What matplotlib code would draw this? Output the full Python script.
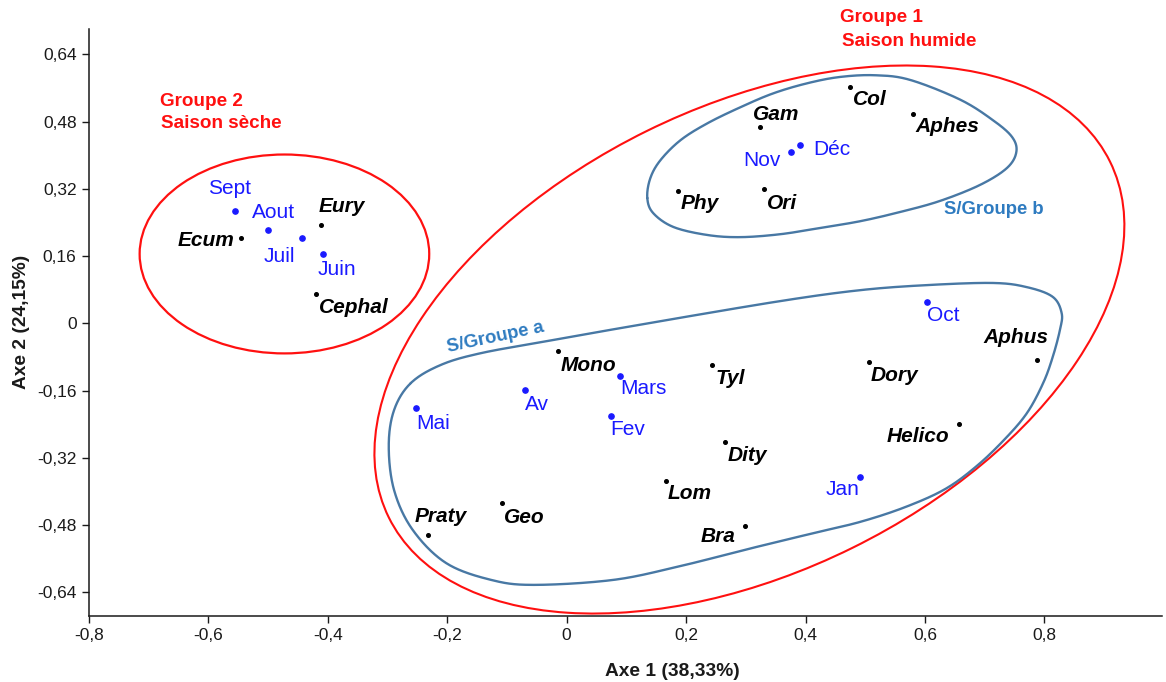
import numpy as np
import matplotlib
matplotlib.use("Agg")
import matplotlib.pyplot as plt
from matplotlib.patches import Ellipse
from matplotlib.transforms import Affine2D
from matplotlib.ticker import FixedLocator, FuncFormatter

plt.rcParams['font.family'] = ['Liberation Sans', 'DejaVu Sans']

# ---- factorial coordinates (Axe 1, Axe 2) ----
species = ["Ecum", "Eury", "Cephal", "Gam", "Col", "Aphes", "Phy", "Ori",
           "Mono", "Tyl", "Dity", "Lom", "Bra", "Praty", "Geo",
           "Aphus", "Dory", "Helico"]
species_x = [-0.545, -0.411, -0.420, 0.323, 0.474, 0.580, 0.187, 0.331,
             -0.014, 0.244, 0.265, 0.166, 0.298, -0.233, -0.108,
             0.788, 0.506, 0.657]
species_y = [0.202, 0.235, 0.069, 0.467, 0.561, 0.497, 0.315, 0.319,
             -0.066, -0.100, -0.283, -0.374, -0.481, -0.504, -0.428,
             -0.086, -0.091, -0.240]

months = ["Sept", "Aout", "Juil", "Juin", "Nov", "Déc", "Mars", "Av",
          "Mai", "Fev", "Oct", "Jan"]
months_x = [-0.555, -0.501, -0.443, -0.408, 0.376, 0.391, 0.090, -0.070,
            -0.253, 0.074, 0.603, 0.492]
months_y = [0.268, 0.222, 0.202, 0.166, 0.407, 0.424, -0.125, -0.159,
            -0.202, -0.220, 0.050, -0.365]

x_ticks = [-0.8, -0.6, -0.4, -0.2, 0.0, 0.2, 0.4, 0.6, 0.8]
y_ticks = [-0.64, -0.48, -0.32, -0.16, 0.0, 0.16, 0.32, 0.48, 0.64]

# ---- label placement (pixel offsets from each point) ----
species_offsets = {
    "Ecum": (-35, -2), "Eury": (21, 18), "Cephal": (38, -13),
    "Gam": (17, 12), "Col": (20, -12), "Aphes": (34, -12),
    "Phy": (21, -13), "Ori": (18, -14), "Mono": (30, -14),
    "Tyl": (18, -13), "Dity": (22, -13), "Lom": (24, -13),
    "Bra": (-27, -11), "Praty": (13, 19), "Geo": (22, -14),
    "Aphus": (-21, 22), "Dory": (26, -14), "Helico": (-41, -12),
}
month_offsets = {
    "Sept": (-6, 22), "Aout": (6, 17), "Juil": (-23, -18), "Juin": (14, -16),
    "Nov": (-29, -8), "Déc": (32, -4), "Mars": (23, -13), "Av": (12, -14),
    "Mai": (18, -15), "Fev": (17, -14), "Oct": (17, -13), "Jan": (-18, -13),
}

# ---- group outlines (data units) ----
subgroup_b_outline = [
    (0.135, 0.298), (0.140, 0.345), (0.157, 0.388), (0.191, 0.436),
    (0.236, 0.476), (0.291, 0.514), (0.346, 0.547), (0.403, 0.571),
    (0.458, 0.586), (0.517, 0.590), (0.575, 0.579), (0.659, 0.532),
    (0.714, 0.483), (0.746, 0.443), (0.753, 0.407), (0.737, 0.369),
    (0.692, 0.329), (0.625, 0.291), (0.559, 0.265), (0.492, 0.243),
    (0.425, 0.227), (0.358, 0.212), (0.291, 0.205), (0.236, 0.210),
    (0.179, 0.229), (0.145, 0.262),
]
subgroup_a_outline = [
    (-0.261, -0.142), (-0.289, -0.206), (-0.298, -0.292), (-0.289, -0.397),
    (-0.258, -0.491), (-0.202, -0.570), (-0.127, -0.610), (-0.055, -0.622),
    (0.079, -0.610), (0.191, -0.577), (0.303, -0.537), (0.413, -0.499),
    (0.492, -0.472), (0.567, -0.437), (0.634, -0.394), (0.687, -0.339),
    (0.734, -0.275), (0.771, -0.213), (0.798, -0.142), (0.814, -0.080),
    (0.826, -0.016), (0.829, 0.024), (0.814, 0.063), (0.771, 0.086),
    (0.714, 0.096), (0.604, 0.091), (0.492, 0.079), (0.358, 0.053),
    (0.140, 0.001), (-0.032, -0.042), (-0.144, -0.071), (-0.211, -0.099),
]

RED = "#FF1010"
OUTLINE_BLUE = "#4878A4"
SUB_LABEL = "#2E7BC0"
MONTH_BLUE = "#1A1AFF"
INK = "#1a1a1a"

W, H = 1166, 682
XLIM = (-0.8, 0.997)
YLIM = (-0.696, 0.700)
ax_rect = [89 / W, 1 - 616 / H, (1162 - 89) / W, (616 - 29) / H]

fig = plt.figure(figsize=(W / 100, H / 100), dpi=100)
ax = fig.add_axes(ax_rect)
ax.set_xlim(*XLIM)
ax.set_ylim(*YLIM)

# pixels per data unit on each axis
sx = W * ax_rect[2] / (XLIM[1] - XLIM[0])
sy = H * ax_rect[3] / (YLIM[1] - YLIM[0])


def closed_spline(points, n=40):
    """Closed Catmull-Rom curve through the given points (in pixel space)."""
    p = np.array(points, dtype=float) * np.array([sx, sy])
    m = len(p)
    out = []
    t = np.linspace(0, 1, n, endpoint=False)
    for i in range(m):
        p0, p1, p2, p3 = p[(i - 1) % m], p[i], p[(i + 1) % m], p[(i + 2) % m]
        t2, t3 = t * t, t * t * t
        seg = 0.5 * ((2 * p1)[None, :]
                     + (-p0 + p2)[None, :] * t[:, None]
                     + (2 * p0 - 5 * p1 + 4 * p2 - p3)[None, :] * t2[:, None]
                     + (-p0 + 3 * p1 - 3 * p2 + p3)[None, :] * t3[:, None])
        out.append(seg)
    out = np.vstack(out + [out[0][:1]])
    return out[:, 0] / sx, out[:, 1] / sy


# Groupe 2 (dry season) outline
ax.add_patch(Ellipse((-0.4727, 0.165), 0.485, 0.473, fill=False,
                     edgecolor=RED, linewidth=1.6, clip_on=False))

# Groupe 1 (wet season) outline: tilted ellipse sized in screen pixels
g1 = Ellipse((0, 0), 2 * 402.1, 2 * 232.4, angle=26.26, fill=False,
             edgecolor=RED, linewidth=1.5, clip_on=False)
g1.set_transform(Affine2D().scale(1 / sx, 1 / sy).translate(0.306, -0.0385)
                 + ax.transData)
ax.add_patch(g1)

for outline in (subgroup_a_outline, subgroup_b_outline):
    xs, ys = closed_spline(outline)
    ax.plot(xs, ys, color=OUTLINE_BLUE, linewidth=1.7, solid_capstyle="round",
            clip_on=False)

# points
ax.plot(species_x, species_y, "o", color="black", markersize=2.6,
        linestyle="none", zorder=5)
ax.plot(months_x, months_y, "o", color=MONTH_BLUE, markersize=3.8,
        linestyle="none", zorder=5)

for name, x, y in zip(species, species_x, species_y):
    ax.annotate(name, (x, y), xytext=species_offsets[name],
                textcoords="offset pixels", ha="center", va="center",
                fontsize=15, fontweight="bold", fontstyle="italic",
                color="black", zorder=6)
for name, x, y in zip(months, months_x, months_y):
    ax.annotate(name, (x, y), xytext=month_offsets[name],
                textcoords="offset pixels", ha="center", va="center",
                fontsize=15, color=MONTH_BLUE, zorder=6)


def fig_xy(px, py):
    return px / W, 1 - py / H


# group captions
for txt, (px, py) in [("Groupe 2", (160, 101)), ("Saison sèche", (161, 124)),
                      ("Groupe 1", (840, 18)), ("Saison humide", (842, 42))]:
    fig.text(*fig_xy(px, py), txt, color=RED, fontsize=13.6, fontweight="bold",
             ha="left", va="center")

fig.text(*fig_xy(495, 337), "S/Groupe a", color=SUB_LABEL, fontsize=13.3,
         fontweight="bold", ha="center", va="center", rotation=12)
fig.text(*fig_xy(994, 210), "S/Groupe b", color=SUB_LABEL, fontsize=13.3,
         fontweight="bold", ha="center", va="center")

# axes styling
for side in ("top", "right"):
    ax.spines[side].set_visible(False)
for side in ("left", "bottom"):
    ax.spines[side].set_linewidth(1.1)
    ax.spines[side].set_color(INK)

ax.xaxis.set_major_locator(FixedLocator(x_ticks))
ax.yaxis.set_major_locator(FixedLocator(y_ticks))


def fr_fmt(decimals):
    def f(v, _pos):
        if abs(v) < 1e-9:
            return "0"
        return f"{v:.{decimals}f}".replace(".", ",")
    return FuncFormatter(f)


ax.xaxis.set_major_formatter(fr_fmt(1))
ax.yaxis.set_major_formatter(fr_fmt(2))
ax.tick_params(direction="out", length=5, width=1.0, color=INK,
               labelsize=12.5, labelcolor=INK, pad=4)

fig.text(*fig_xy(672, 671), "Axe 1 (38,33%)", fontsize=13.8, fontweight="bold",
         ha="center", va="center", color=INK)
fig.text(*fig_xy(22, 322), "Axe 2 (24,15%)", fontsize=13.8, fontweight="bold",
         ha="center", va="center", rotation=90, color=INK)

fig.savefig("out.png", dpi=100)
